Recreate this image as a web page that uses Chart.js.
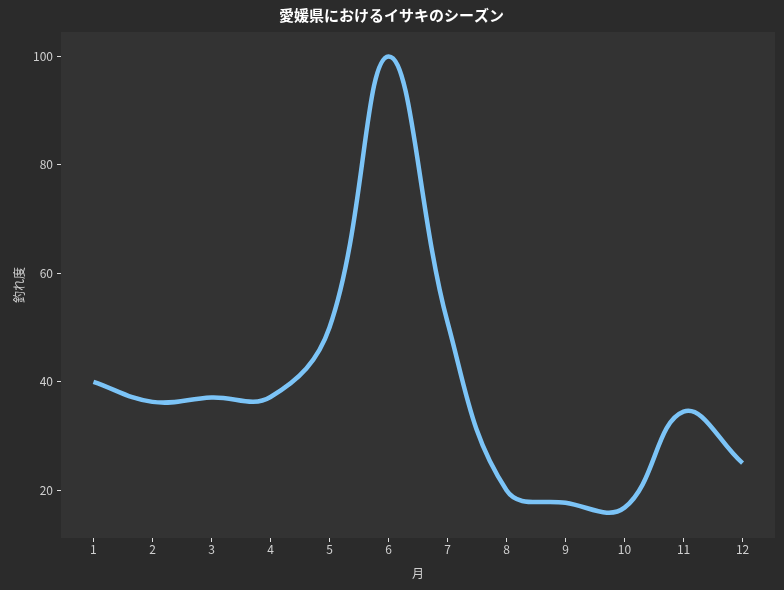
<!DOCTYPE html>
<html>
<head>
<meta charset="utf-8">
<script src="https://cdn.jsdelivr.net/npm/chart.js@4.4.1/dist/chart.umd.min.js"></script>
<style>
  html, body { margin: 0; padding: 0; background: #2b2b2b; }
  #wrap { width: 784px; height: 590px; }
</style>
</head>
<body>
<div id="wrap"><canvas id="chart"></canvas></div>
<script>
// data
const months = [1, 2, 3, 4, 5, 6, 7, 8, 9, 10, 11, 12];
const catchRate = [40, 36.3, 37.1, 37.2, 50, 100, 51, 20, 17.7, 16.8, 34.5, 25];
const yTicks = [20, 40, 60, 80, 100];

const chartTitle = '愛媛県におけるイサキのシーズン';
const xTitle = '月';
const yTitle = '釣れ度';

const font = '"Noto Sans CJK JP", "Noto Sans", sans-serif';

// paint the plot background
const plotBg = {
  id: 'plotBg',
  beforeDraw(chart) {
    const { ctx, chartArea: a } = chart;
    ctx.save();
    ctx.fillStyle = '#333333';
    ctx.fillRect(a.left, a.top, a.right - a.left, a.bottom - a.top);
    ctx.restore();
  }
};

new Chart(document.getElementById('chart'), {
  type: 'line',
  data: {
    datasets: [{
      data: months.map((m, i) => ({ x: m, y: catchRate[i] })),
      borderColor: '#7cc4f7',
      borderWidth: 4.5,
      pointRadius: 0,
      tension: 0.4,
      fill: false
    }]
  },
  options: {
    responsive: true,
    maintainAspectRatio: false,
    animation: false,
    events: [],
    layout: { padding: { left: 8, right: 9, top: 0, bottom: 0 } },
    plugins: {
      legend: { display: false },
      tooltip: { enabled: false },
      title: {
        display: true,
        text: chartTitle,
        color: '#ffffff',
        font: { family: font, size: 15, weight: 'bold' },
        padding: { top: 6, bottom: 8 }
      }
    },
    scales: {
      x: {
        type: 'linear',
        min: 0.45,
        max: 12.55,
        afterBuildTicks: s => { s.ticks = months.map(v => ({ value: v })); },
        afterFit: s => { s.height = 52; },
        grid: { drawOnChartArea: false, drawTicks: true, tickLength: 4, color: '#dddddd' },
        border: { display: false },
        ticks: { color: '#d0d0d0', font: { family: font, size: 12 }, padding: 0 },
        title: { display: true, text: xTitle, color: '#d0d0d0', font: { family: font, size: 12 }, padding: { top: 0, bottom: 9 } }
      },
      y: {
        type: 'linear',
        min: 11.2,
        max: 104.5,
        afterBuildTicks: s => { s.ticks = yTicks.map(v => ({ value: v })); },
        afterFit: s => { s.width = 53; },
        grid: { drawOnChartArea: false, drawTicks: true, tickLength: 4, color: '#dddddd' },
        border: { display: false },
        ticks: { color: '#d0d0d0', font: { family: font, size: 12 }, padding: 4 },
        title: { display: true, text: yTitle, color: '#d0d0d0', font: { family: font, size: 12 }, padding: { bottom: 0 } }
      }
    }
  },
  plugins: [plotBg]
});
</script>
</body>
</html>
